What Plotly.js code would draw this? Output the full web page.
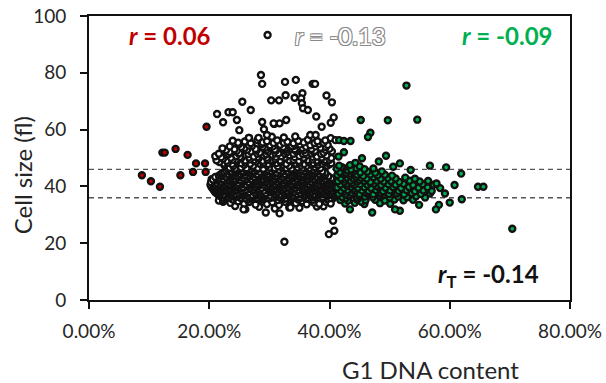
<!DOCTYPE html>
<html>
<head>
<meta charset="utf-8">
<script src="https://cdn.plot.ly/plotly-3.0.1.min.js"></script>
<style>html,body{margin:0;padding:0;background:#fff;}#chart{width:606px;height:383px;}</style>
</head>
<body>
<div id="chart"></div>
<script>
// [G1 DNA content (%), cell size (fl)] pairs
const redPoints = [[8.8,43.9],[10.3,41.8],[11.8,39.9],[12.2,51.9],[12.6,51.9],[14.4,53.2],[15.2,43.9],[16.4,51.1],[17.3,45.1],[17.8,48.1],[19.3,48.1],[19.4,45.1],[19.55,61.0],[20.4,42.5],[20.4,40.7]];

const whiteLow = [
[26.0,31.9],[29.4,30.8],[31.7,30.5],[33.3,32.6],[28.3,32.8],[30.9,32.2],[35.0,32.5],[37.9,32.9],[39.0,33.0],[24.3,33.1],
[21.6,35.0],[22.3,34.6],[23.5,34.2],[24.8,34.8],[25.8,33.9],[26.6,34.5],[27.7,33.6],[28.9,34.7],[29.6,33.8],[30.5,34.4],[31.6,33.5],[32.6,34.6],[33.5,33.2],[34.4,34.1],[35.5,34.8],[36.2,33.7],[37.4,34.3],[38.3,33.9],[39.4,34.6],[40.2,34.0],[22.3,35.2]
];

const whiteCore = [
[22.6,35.8],[23.9,35.4],[25.3,35.9],[26.4,35.3],[27.8,35.7],[28.9,35.5],[30.1,35.9],[31.4,35.2],[32.5,35.6],[33.7,35.8],[34.8,35.4],[36.1,35.7],[37.3,35.3],[38.4,35.9],[39.6,35.5],[40.6,35.8],
[22.2,36.1],[23.3,35.9],[24.3,36.2],[25.2,36.0],[26.1,35.8],[27.0,36.1],[28.0,36.0],[28.9,36.2],[29.9,35.9],[30.8,36.1],[31.8,36.0],[32.7,35.8],[33.6,36.2],[34.6,36.0],[35.5,36.1],[36.4,35.9],[37.3,36.2],[38.3,36.0],[39.2,36.1],[40.2,35.9],
[21.8,36.6],[22.9,36.3],[23.8,36.7],[24.7,36.4],[25.7,36.8],[26.6,36.2],[27.5,36.6],[28.5,36.5],[29.4,36.9],[30.4,36.3],[31.3,36.6],[32.2,36.4],[33.2,36.8],[34.1,36.5],[35.0,36.3],[36.0,36.7],[36.9,36.4],[37.8,36.6],[38.8,36.2],[39.7,36.8],[40.7,36.5],
[21.6,37.0],[22.6,36.8],[23.6,37.1],[24.5,36.9],[25.4,37.0],[26.4,36.8],[27.3,37.1],[28.2,36.9],[29.2,37.0],[30.1,36.8],[31.0,37.1],[32.0,36.9],[32.9,37.0],[33.9,36.8],[34.8,37.1],[35.7,36.9],[36.7,37.0],[37.6,36.8],[38.6,37.1],[39.5,36.9],[40.4,37.0],
[21.3,37.5],[22.4,37.2],[23.3,37.6],[24.3,37.3],[25.2,37.7],[26.1,37.4],[27.1,37.1],[28.0,37.6],[28.9,37.3],[29.9,37.8],[30.8,37.4],[31.8,37.2],[32.7,37.6],[33.6,37.5],[34.6,37.3],[35.5,37.7],[36.4,37.4],[37.4,37.2],[38.3,37.6],[39.2,37.3],[40.2,37.5],[41.0,37.4],
[21.0,37.9],[21.9,37.7],[22.9,38.0],[23.8,37.8],[24.8,37.9],[25.7,37.7],[26.6,38.0],[27.6,37.8],[28.5,37.9],[29.4,37.7],[30.4,38.0],[31.3,37.8],[32.3,37.9],[33.2,37.7],[34.1,38.0],[35.1,37.8],[36.0,37.9],[36.9,37.7],[37.9,38.0],[38.8,37.8],[39.7,37.9],[40.7,37.7],
[20.9,38.4],[21.8,38.1],[22.8,38.5],[23.7,38.2],[24.7,38.6],[25.6,38.3],[26.6,38.0],[27.5,38.5],[28.4,38.2],[29.4,38.7],[30.3,38.3],[31.3,38.1],[32.2,38.5],[33.1,38.4],[34.1,38.2],[35.0,38.6],[35.9,38.3],[36.9,38.1],[37.8,38.5],[38.8,38.2],[39.7,38.4],[40.6,38.3],[41.4,38.6],
[20.7,38.8],[21.6,38.6],[22.6,38.9],[23.5,38.7],[24.4,38.8],[25.4,38.6],[26.3,38.9],[27.2,38.7],[28.2,38.8],[29.1,38.6],[30.1,38.9],[31.0,38.7],[31.9,38.8],[32.9,38.6],[33.8,38.9],[34.8,38.7],[35.7,38.8],[36.6,38.6],[37.6,38.9],[38.5,38.7],[39.5,38.8],[40.4,38.6],[41.2,38.9],
[20.6,39.3],[21.4,39.0],[22.3,39.4],[23.3,39.1],[24.2,39.5],[25.1,39.2],[26.1,38.9],[27.0,39.4],[28.0,39.1],[28.9,39.6],[29.8,39.2],[30.8,39.0],[31.7,39.4],[32.7,39.3],[33.6,39.1],[34.5,39.5],[35.5,39.2],[36.4,39.0],[37.3,39.4],[38.3,39.1],[39.2,39.3],[40.2,39.2],[41.1,39.5],
[20.4,39.7],[21.2,39.5],[22.1,39.8],[23.0,39.6],[24.0,39.7],[24.9,39.5],[25.9,39.8],[26.8,39.6],[27.7,39.7],[28.7,39.5],[29.6,39.8],[30.5,39.6],[31.5,39.7],[32.4,39.5],[33.4,39.8],[34.3,39.6],[35.2,39.7],[36.2,39.5],[37.1,39.8],[38.0,39.6],[39.0,39.7],[39.9,39.5],[40.9,39.8],
[20.3,40.2],[21.0,39.9],[21.9,40.3],[22.8,40.0],[23.8,40.4],[24.7,40.1],[25.6,39.8],[26.6,40.3],[27.5,40.0],[28.4,40.5],[29.4,40.1],[30.3,39.9],[31.3,40.3],[32.2,40.2],[33.1,40.0],[34.1,40.4],[35.0,40.1],[36.0,39.9],[36.9,40.3],[37.8,40.0],[38.8,40.2],[39.7,40.1],[40.7,40.4],[41.5,40.0],
[20.2,40.6],[20.8,40.4],[21.7,40.7],[22.6,40.5],[23.5,40.6],[24.5,40.4],[25.4,40.7],[26.3,40.5],[27.3,40.6],[28.2,40.4],[29.1,40.7],[30.1,40.5],[31.0,40.6],[32.0,40.4],[32.9,40.7],[33.8,40.5],[34.8,40.6],[35.7,40.4],[36.6,40.7],[37.6,40.5],[38.5,40.6],[39.5,40.4],[40.4,40.7],[41.3,40.5],
[20.5,41.1],[21.5,40.8],[22.4,41.2],[23.3,40.9],[24.3,41.3],[25.2,41.0],[26.1,40.7],[27.1,41.2],[28.0,40.9],[29.0,41.4],[29.9,41.0],[30.8,40.8],[31.8,41.2],[32.7,41.1],[33.7,40.9],[34.6,41.3],[35.5,41.0],[36.5,40.8],[37.4,41.2],[38.3,40.9],[39.3,41.1],[40.2,41.0],[41.1,41.3],
[20.3,41.5],[21.1,41.3],[22.0,41.6],[22.9,41.4],[23.8,41.5],[24.8,41.3],[25.7,41.6],[26.6,41.4],[27.6,41.5],[28.5,41.3],[29.4,41.6],[30.4,41.4],[31.3,41.5],[32.3,41.3],[33.2,41.6],[34.1,41.4],[35.1,41.5],[36.0,41.3],[36.9,41.6],[37.9,41.4],[38.8,41.5],[39.8,41.3],[40.7,41.6],
[20.8,42.0],[21.9,41.7],[22.8,42.1],[23.8,41.8],[24.7,42.2],[25.7,41.9],[26.6,41.6],[27.5,42.1],[28.5,41.8],[29.4,42.3],[30.4,41.9],[31.3,41.7],[32.2,42.1],[33.2,42.0],[34.1,41.8],[35.1,42.2],[36.0,41.9],[36.9,41.7],[37.9,42.1],[38.8,41.8],[39.8,42.0],[40.7,41.9],
[20.6,42.4],[21.4,42.2],[22.3,42.5],[23.3,42.3],[24.2,42.4],[25.2,42.2],[26.1,42.5],[27.0,42.3],[28.0,42.4],[28.9,42.2],[29.9,42.5],[30.8,42.3],[31.7,42.4],[32.7,42.2],[33.6,42.5],[34.6,42.3],[35.5,42.4],[36.4,42.2],[37.4,42.5],[38.3,42.3],[39.3,42.4],[40.2,42.2],[41.0,42.5],
[21.2,42.9],[22.3,42.6],[23.3,43.0],[24.2,42.7],[25.2,43.1],[26.1,42.8],[27.0,42.5],[28.0,43.0],[28.9,42.7],[29.9,43.2],[30.8,42.8],[31.7,42.6],[32.7,43.0],[33.6,42.9],[34.6,42.7],[35.5,43.1],[36.4,42.8],[37.4,42.6],[38.3,43.0],[39.3,42.7],[40.3,42.9],
[21.0,43.3],[21.7,43.1],[22.8,43.4],[23.7,43.2],[24.7,43.3],[25.6,43.1],[26.6,43.4],[27.5,43.2],[28.4,43.3],[29.4,43.1],[30.3,43.4],[31.3,43.2],[32.2,43.3],[33.1,43.1],[34.1,43.4],[35.0,43.2],[35.9,43.3],[36.9,43.1],[37.8,43.4],[38.8,43.2],[39.8,43.3],
[21.6,43.8],[22.7,43.5],[23.7,43.9],[24.6,43.6],[25.6,44.0],[26.5,43.7],[27.5,43.4],[28.4,43.9],[29.4,43.6],[30.3,44.1],[31.2,43.7],[32.2,43.5],[33.1,43.9],[34.1,43.8],[35.0,43.6],[35.9,44.0],[36.9,43.7],[37.8,43.5],[38.8,43.9],[39.8,43.6],
[21.9,44.2],[22.2,44.0],[23.2,44.3],[24.1,44.1],[25.1,44.2],[26.0,44.0],[27.0,44.3],[27.9,44.1],[28.9,44.2],[29.8,44.0],[30.7,44.3],[31.7,44.1],[32.6,44.2],[33.6,44.0],[34.5,44.3],[35.4,44.1],[36.4,44.2],[37.3,44.0],[38.3,44.3],[39.3,44.1],
[22.2,44.7],[23.2,44.4],[24.1,44.8],[25.1,44.5],[26.0,44.9],[27.0,44.6],[27.9,44.3],[28.9,44.8],[29.8,44.5],[30.8,45.0],[31.7,44.6],[32.6,44.4],[33.6,44.8],[34.5,44.7],[35.5,44.5],[36.4,44.9],[37.3,44.6],[38.3,44.4],[39.3,44.8],
[22.5,45.1],[23.6,44.9],[24.6,45.2],[25.5,45.0],[26.5,45.1],[27.4,44.9],[28.4,45.2],[29.3,45.0],[30.3,45.1],[31.2,44.9],[32.1,45.2],[33.1,45.0],[34.0,45.1],[35.0,44.9],[35.9,45.2],[36.8,45.0],[37.8,45.1],[38.8,44.9],
[22.8,45.6],[23.7,45.3],[24.6,45.7],[25.6,45.4],[26.5,45.8],[27.4,45.5],[28.4,45.2],[29.3,45.7],[30.3,45.4],[31.2,45.9],[32.1,45.5],[33.1,45.3],[34.0,45.7],[35.0,45.6],[35.9,45.4],[36.8,45.8],[37.8,45.5],[38.8,45.3],
[23.1,46.1],[24.1,45.9],[25.0,46.2],[26.0,46.0],[26.9,46.1],[27.9,45.9],[28.8,46.2],[29.7,46.0],[30.7,46.1],[31.6,45.9],[32.6,46.2],[33.5,46.0],[34.4,46.1],[35.4,45.9],[36.3,46.2],[37.3,46.0],[38.2,46.1],
[23.4,46.6],[24.3,46.3],[25.3,46.7],[26.2,46.4],[27.2,46.8],[28.1,46.5],[29.0,46.2],[30.0,46.7],[30.9,46.4],[31.9,46.9],[32.8,46.5],[33.7,46.3],[34.7,46.7],[35.6,46.6],[36.6,46.4],[37.5,46.8],[38.5,46.5],
[22.5,47.5],[24.0,47.2],[25.8,47.6],[27.3,47.3],[28.6,47.7],[29.6,47.4],[31.4,47.1],[32.3,47.6],[33.3,47.3],[34.2,47.8],[35.2,47.4],[36.2,47.2],[37.1,47.6],[38.1,47.5],[39.6,47.3]
];

const whiteHalo = [
[22.4,48.1],[23.8,47.9],[25.3,48.2],[26.8,48.0],[28.3,48.1],[29.8,47.9],[31.2,48.2],[32.8,48.0],[34.4,48.1],[35.8,47.9],[37.3,48.2],[38.8,48.0],[40.0,47.8],
[21.7,48.6],[23.1,48.3],[24.6,48.9],[26.0,48.4],[27.8,48.8],[29.0,48.2],[30.5,48.7],[31.9,48.5],[33.8,48.9],[35.0,48.3],[36.5,48.7],[38.0,48.4],[39.2,48.6],[40.3,48.2],
[21.2,49.2],[22.9,49.0],[24.4,49.3],[26.0,49.1],[27.4,49.2],[28.9,49.0],[30.4,49.3],[31.8,49.1],[33.3,49.2],[34.9,49.0],[36.4,49.3],[37.9,49.1],[39.4,49.2],
[22.3,49.7],[23.9,49.4],[25.3,49.9],[26.8,49.5],[28.2,49.8],[29.7,49.3],[31.0,49.6],[32.6,49.9],[34.0,49.4],[35.7,49.7],[37.2,49.5],[38.6,49.8],[40.0,49.4],
[22.0,50.3],[23.6,50.1],[25.1,50.4],[26.6,50.2],[28.0,50.3],[29.6,50.1],[31.1,50.4],[32.6,50.2],[34.2,50.3],[35.7,50.1],[37.2,50.4],[38.7,50.2],[40.3,50.0],
[21.0,50.6],[22.9,51.0],[24.5,50.7],[26.1,51.1],[27.4,50.5],[29.1,50.9],[30.4,51.2],[32.0,50.6],[33.3,51.0],[35.0,50.7],[36.3,51.1],[37.9,50.5],[39.5,50.9],
[21.6,51.5],[23.2,51.3],[24.9,51.6],[26.5,51.4],[28.0,51.5],[29.5,51.3],[31.0,51.6],[32.6,51.4],[34.0,51.5],[35.6,51.3],[37.0,51.6],[38.6,51.4],
[23.4,52.1],[25.0,51.8],[26.9,52.3],[28.4,51.9],[29.8,52.2],[31.5,51.7],[32.9,52.0],[34.5,52.4],[36.0,51.8],[37.4,52.1],[39.0,51.9],[40.4,52.3],
[22.8,52.8],[24.6,52.6],[26.3,52.9],[27.9,52.7],[29.5,52.8],[31.1,52.6],[32.8,52.9],[34.3,52.7],[35.8,52.8],[37.6,52.6],[39.3,52.9],
[22.2,53.4],[24.2,53.1],[25.9,53.5],[27.7,53.2],[29.3,53.6],[30.9,53.0],[32.6,53.4],[34.2,53.1],[35.5,53.5],[37.0,53.2],[38.5,53.6],[40.0,53.3],
[23.4,54.1],[25.3,53.9],[27.1,54.2],[28.9,54.0],[30.6,54.1],[32.3,53.9],[34.0,54.2],[36.1,54.0],[37.7,54.1],[39.4,53.9],
[24.9,54.8],[26.6,54.4],[28.7,54.9],[30.1,54.5],[31.8,54.7],[33.7,54.3],[35.1,54.8],[36.8,54.5],[38.2,54.9],[39.7,54.6],
[24.8,55.4],[26.9,55.2],[28.9,55.5],[30.7,55.3],[32.4,55.4],[34.0,55.2],[35.7,55.5],[37.5,55.3],[39.0,55.4],
[23.9,56.1],[25.9,55.8],[28.0,56.3],[29.6,55.9],[31.3,56.2],[33.0,55.7],[34.8,56.0],[36.4,56.4],[38.0,55.9],[39.3,56.2],
[26.6,57.1],[28.2,57.1],[30.4,57.5],[32.4,57.2],[34.3,57.6],[36.8,58.1],[37.7,58.1],[40.2,57.0],[41.0,56.3]
];

const whiteOutliers = [
[28.6,79.2],[28.8,76.1],[25.5,69.8],[26.9,66.9],[30.3,70.3],[31.6,70.3],[21.3,65.5],[23.2,66.1],[23.9,66.1],[22.3,62.6],[24.6,63.4],[25.0,59.8],[28.8,62.7],[29.1,60.1],[30.8,62.0],[29.6,58.1],[26.6,57.1],
[32.6,76.8],[34.4,77.5],[37.2,76.1],[37.6,76.1],[32.7,72.1],[34.2,71.2],[35.5,72.8],[35.3,71.0],[35.4,69.3],[35.6,67.5],[36.4,66.9],[39.5,72.0],[40.4,69.6],[37.8,64.6],[40.7,64.3],[40.2,62.4],[38.7,61.0],[32.8,63.4],[31.7,62.2],[30.7,62.2],
[32.5,20.5],[40.6,27.9],[39.9,23.2],[40.8,24.4],[25.7,31.9],[33.5,32.6]
];

const greenPoints = [
[42.6,34.0],[44.2,34.2],[45.8,33.8],[48.4,34.1],[50.1,33.9],[54.9,33.5],[45.3,34.6],
[41.8,35.2],[43.1,35.0],[44.6,35.4],[46.0,35.1],[47.6,35.3],[49.2,35.0],[50.8,35.4],[52.3,35.1],[53.9,35.3],[42.7,35.8],
[42.1,36.3],[43.3,36.5],[44.6,36.1],[45.9,36.4],[47.2,36.2],[48.5,36.5],[50.0,36.1],[51.4,36.4],[52.9,36.2],[54.4,36.5],[55.9,36.1],[43.4,37.0],[44.9,36.8],[48.9,36.9],
[41.5,37.4],[42.6,37.2],[43.8,37.6],[45.0,37.3],[46.2,37.5],[47.3,37.2],[48.6,37.6],[49.9,37.3],[51.2,37.5],[52.4,37.2],[53.7,37.6],[55.2,37.3],[56.7,37.5],[42.3,38.0],[46.0,38.0],
[41.9,38.5],[43.0,38.7],[44.2,38.3],[45.4,38.6],[46.5,38.4],[47.7,38.7],[48.9,38.3],[50.1,38.6],[51.5,38.4],[52.8,38.7],[54.2,38.3],[55.6,38.6],[57.0,38.4],[44.0,39.1],
[41.3,39.6],[42.4,39.4],[43.6,39.8],[44.7,39.5],[45.8,39.7],[46.9,39.4],[48.1,39.8],[49.3,39.5],[50.6,39.7],[51.9,39.4],[53.2,39.8],[54.8,39.5],[56.3,39.7],[58.4,39.4],[42.9,40.2],[47.9,40.2],
[41.8,40.7],[42.9,40.9],[44.1,40.5],[45.1,40.8],[46.3,40.6],[47.4,40.9],[48.6,40.5],[49.8,40.8],[51.0,40.6],[52.3,40.9],[53.9,40.5],[55.5,40.8],[57.3,40.6],[43.8,41.2],[46.8,41.3],
[41.4,41.8],[42.5,41.6],[43.5,42.0],[44.6,41.7],[45.7,41.9],[46.8,41.6],[47.9,42.0],[49.0,41.7],[50.2,41.9],[51.6,41.6],[53.3,42.0],[55.0,41.7],[56.4,41.9],[45.0,42.2],[42.6,42.4],
[41.9,42.9],[42.9,43.1],[44.0,42.7],[45.2,43.0],[46.2,42.8],[47.3,43.2],[48.5,42.7],[49.7,43.0],[51.0,42.8],[52.6,43.1],[54.2,42.7],[44.4,43.3],
[41.3,44.0],[42.4,44.2],[43.4,43.8],[44.6,44.1],[45.6,43.7],[46.8,44.2],[48.0,43.9],[49.2,44.1],[50.4,43.8],[42.2,44.6],[43.3,44.5],
[41.7,45.1],[42.8,44.8],[43.9,45.3],[45.1,44.9],[46.3,45.2],[47.6,44.8],[48.7,45.3],[43.0,45.7],[44.2,45.6],
[41.2,46.2],[42.3,46.5],[43.6,46.0],[44.5,46.4],[45.8,46.1],[47.3,46.3],[42.0,46.8],
[41.6,47.3],[43.4,47.5],[45.0,47.1],
[52.8,75.5],[45.2,63.4],[49.7,63.3],[54.6,63.5],[46.8,58.9],[46.4,57.4],[41.6,56.3],[42.4,56.0],[43.5,56.0],[45.4,49.9],[49.4,50.8],[56.7,47.3],[59.4,46.7],[61.9,44.5],[51.7,48.1],[50.6,46.9],
[64.7,39.9],[65.6,39.9],[70.4,25.1],[60.0,34.3],[58.2,33.5],[57.7,31.9],[51.7,31.4],[50.9,31.9],[47.1,30.8],[43.4,31.9],
[41.5,50.5],[42.4,52.0],[44.3,48.3],[48.2,48.8],[53.5,45.8],[57.8,41.0],[59.2,37.5],[60.8,40.5],[62.0,35.5]
];

// open-circle symbol that precedes the grey r label
const labelMarker = [[29.7,93.3]];

const thresholdY = [46, 36];
const xTicks = [0, 20, 40, 60, 80];
const yTicks = [0, 20, 40, 60, 80, 100];

const xs = a => a.map(p => p[0]);
const ys = a => a.map(p => p[1]);
const whiteAll = whiteLow.concat(whiteCore, whiteHalo, whiteOutliers);

const mk = (fill) => ({size: 6, color: fill, line: {color: '#111', width: 2.4}});
const traces = [
  {type: 'scatter', mode: 'markers', x: xs(redPoints), y: ys(redPoints), marker: mk('#c00000'), hoverinfo: 'skip'},
  {type: 'scatter', mode: 'markers', x: xs(whiteAll), y: ys(whiteAll), marker: mk('#ffffff'), hoverinfo: 'skip'},
  {type: 'scatter', mode: 'markers', x: xs(greenPoints), y: ys(greenPoints), marker: mk('#00b050'), hoverinfo: 'skip'},
  {type: 'scatter', mode: 'markers', x: xs(labelMarker), y: ys(labelMarker), marker: mk('#ffffff'), hoverinfo: 'skip', cliponaxis: false}
];

const FONT = 'Lato, "Open Sans", sans-serif';
const greyShadow = '-1px -1px 0 #8a8a8a, 1px -1px 0 #8a8a8a, -1px 1px 0 #8a8a8a, 1px 1px 0 #8a8a8a';

const layout = {
  width: 606, height: 383,
  margin: {l: 89, r: 36, t: 16, b: 83, pad: 0},
  paper_bgcolor: '#fff', plot_bgcolor: '#fff',
  showlegend: false,
  font: {family: FONT, color: '#222'},
  xaxis: {
    range: [0, 80], tickvals: xTicks, ticktext: xTicks.map(v => v.toFixed(2) + '%'),
    showgrid: false, zeroline: false, showline: true, linecolor: '#111', linewidth: 2, mirror: true,
    ticks: 'outside', ticklen: 7, tickwidth: 2, tickcolor: '#111', ticklabelstandoff: 6,
    tickfont: {family: FONT, size: 19, color: '#262626'}
  },
  yaxis: {
    range: [0, 100], tickvals: yTicks,
    showgrid: false, zeroline: false, showline: true, linecolor: '#111', linewidth: 2, mirror: true,
    ticks: 'outside', ticklen: 7, tickwidth: 2, tickcolor: '#111', ticklabelstandoff: 10,
    tickfont: {family: FONT, size: 19, color: '#262626'}
  },
  shapes: thresholdY.map(v => ({type: 'line', xref: 'paper', x0: 0, x1: 1, yref: 'y', y0: v, y1: v,
    line: {color: '#555', width: 1.3, dash: '5px,4px'}, layer: 'below'})),
  annotations: [
    {xref: 'x', yref: 'y', x: 13.5, y: 93.3, xanchor: 'center', yanchor: 'middle', text: '<i>r</i> = 0.06', showarrow: false,
     font: {family: FONT, size: 24, color: '#c00000', weight: 'bold'}},
    {xref: 'x', yref: 'y', x: 41.8, y: 93.3, xanchor: 'center', yanchor: 'middle', text: '<i>r</i> = -0.13', showarrow: false,
     font: {family: FONT, size: 24, color: '#ffffff', shadow: greyShadow}},
    {xref: 'x', yref: 'y', x: 69.5, y: 93.3, xanchor: 'center', yanchor: 'middle', text: '<i>r</i> = -0.09', showarrow: false,
     font: {family: FONT, size: 24, color: '#00b050', weight: 'bold'}},
    {xref: 'x', yref: 'y', x: 66.5, y: 8.5, xanchor: 'center', yanchor: 'middle', text: '<i>r</i><sub>T</sub> = -0.14', showarrow: false,
     font: {family: FONT, size: 24, color: '#111', weight: 'bold'}},
    {xref: 'paper', yref: 'paper', x: 0.711, y: -0.246, xanchor: 'center', yanchor: 'middle', text: 'G1 DNA content', showarrow: false,
     font: {family: FONT, size: 24, color: '#262626'}},
    {xref: 'paper', yref: 'paper', x: -0.139, y: 0.44, xanchor: 'center', yanchor: 'middle', text: 'Cell size (fl)', textangle: -90, showarrow: false,
     font: {family: FONT, size: 24, color: '#262626'}}
  ]
};

Plotly.newPlot('chart', traces, layout, {staticPlot: true, displayModeBar: false});
</script>
</body>
</html>
